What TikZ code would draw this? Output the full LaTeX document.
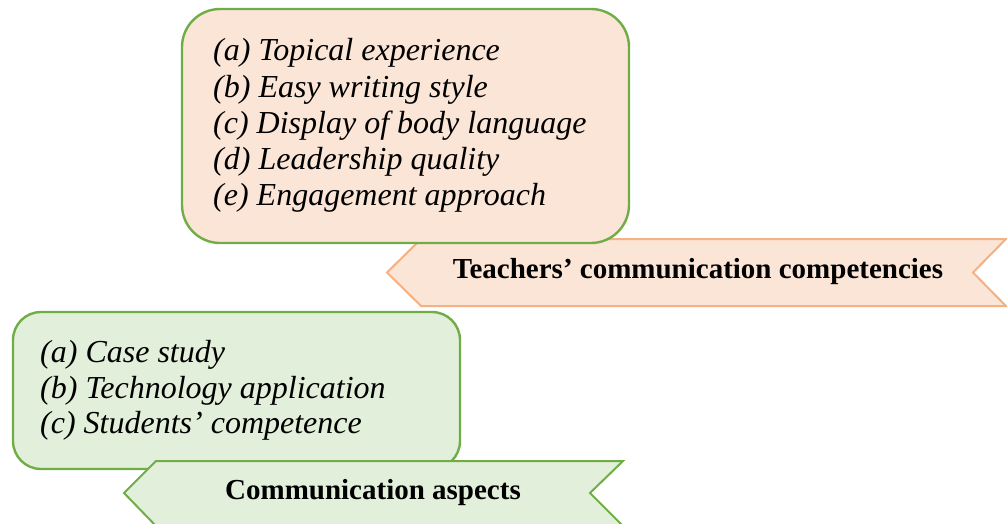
\documentclass[tikz,border=0pt]{standalone}
\usepackage{fontspec}
\setmainfont{Liberation Serif}
\definecolor{peachfill}{HTML}{FBE5D6}
\definecolor{peachline}{HTML}{F4B183}
\definecolor{leaffill}{HTML}{E2EFDA}
\definecolor{leafline}{HTML}{70AD47}
\begin{document}
\begin{tikzpicture}[x=1pt,y=-1pt,
  itemtext/.style={anchor=base west,inner sep=0pt,font=\fontsize{32}{36}\selectfont\itshape},
  bannertext/.style={anchor=base,inner sep=0pt,font=\fontsize{29}{33}\selectfont\bfseries},
  roundbox/.style={line width=2.4pt,rounded corners=#1},
  banner/.style={line width=2pt,line join=miter}]
\useasboundingbox (0,0) rectangle (1007,523);

% ---- teachers' communication competencies ----
\coordinate (tbl) at (387,272.5);
\coordinate (tbtl) at (421,239);
\coordinate (tbtr) at (1006,239);
\coordinate (tbn) at (973,272.5);
\coordinate (tbbr) at (1006,306);
\coordinate (tbbl) at (421,306);
\draw[banner,draw=peachline,fill=peachfill]
  (tbl) -- (tbtl) -- (tbtr) -- (tbn) -- (tbbr) -- (tbbl) -- cycle;
\node[bannertext] (tbtext) at (698,278) {Teachers’ communication competencies};

\draw[roundbox=38pt,draw=leafline,fill=peachfill] (182,9) rectangle (629,243);
\node[itemtext] (t1) at (213,60) {(a) Topical experience};
\node[itemtext] (t2) at (213,97) {(b) Easy writing style};
\node[itemtext] (t3) at (213,133) {(c) Display of body language};
\node[itemtext] (t4) at (213,169) {(d) Leadership quality};
\node[itemtext] (t5) at (213,205) {(e) Engagement approach};

% ---- communication aspects ----
\draw[roundbox=28pt,draw=leafline,fill=leaffill] (13,312) rectangle (460,469);
\node[itemtext] (c1) at (40,362) {(a) Case study};
\node[itemtext] (c2) at (40,398) {(b) Technology application};
\node[itemtext] (c3) at (40,433) {(c) Students’ competence};

\coordinate (cbl) at (124,493);
\coordinate (cbtl) at (156,461);
\coordinate (cbtr) at (623,461);
\coordinate (cbn) at (590,493);
\coordinate (cbbr) at (623,526);
\coordinate (cbbl) at (156,526);
\draw[banner,draw=leafline,fill=leaffill]
  (cbl) -- (cbtl) -- (cbtr) -- (cbn) -- (cbbr) -- (cbbl) -- cycle;
\node[bannertext] (cbtext) at (373,499) {Communication aspects};
\end{tikzpicture}
\end{document}
